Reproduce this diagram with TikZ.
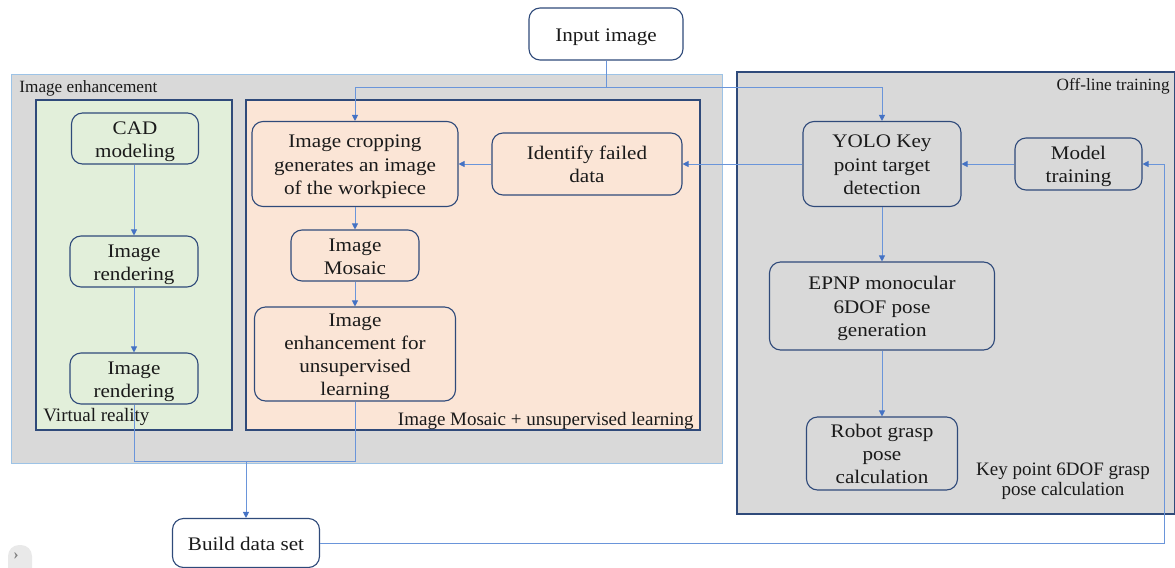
\documentclass[tikz,border=0pt]{standalone}
\usepackage{fontspec}
\setmainfont{Liberation Serif}
\newfontfamily\stepserif{Liberation Serif}
\usetikzlibrary{arrows.meta}
\definecolor{navy}{HTML}{2F4A7A}
\definecolor{panelgray}{HTML}{D9D9D9}
\definecolor{vrgreen}{HTML}{E2EFDA}
\definecolor{mosaicpink}{HTML}{FBE5D6}
\definecolor{framebl}{HTML}{9DC3E6}
\definecolor{linkbl}{HTML}{6A95DA}
\definecolor{tipbl}{HTML}{4472C4}
\definecolor{ink}{HTML}{1A1A1A}
\definecolor{btngray}{HTML}{E9E9E9}
% step captions: centred lines, set slightly wide and a touch low in the box
\newcommand\steptext[1]{\raisebox{-1.25pt}[\height][\depth]{\scalebox{1.1}[1]{\begin{tabular}{@{}c@{}}#1\end{tabular}}}}
% one unit of the grid is half a point; the page is 587.5pt x 284pt
\tikzset{
  box/.style={draw=navy, line width=0.55pt, rounded corners=5.5pt, align=center,
    inner sep=0pt, text=ink, font=\stepserif\fontsize{9.6}{11.6}\selectfont},
  grouplbl/.style={inner sep=0pt, text=ink, font=\stepserif\fontsize{9.5}{10}\selectfont},
  smalllbl/.style={inner sep=0pt, text=ink, font=\stepserif\fontsize{8.6}{9}\selectfont},
  link/.style={draw=linkbl, line width=0.4pt},
  arr/.style={link, -{Triangle[length=3pt,width=3pt,color=tipbl]}},
}
\begin{document}
\begin{tikzpicture}[x=0.5pt,y=-0.5pt]
\useasboundingbox (0,0) rectangle (1175,568);

% group panels
\filldraw[fill=panelgray, draw=framebl, line width=0.45pt] (11,74) rectangle (722,463);
\filldraw[fill=vrgreen, draw=navy, line width=0.55pt] (36,100) rectangle (232,430);
\filldraw[fill=mosaicpink, draw=navy, line width=0.55pt] (246,100) rectangle (700,430);
\filldraw[fill=panelgray, draw=navy, line width=0.55pt] (737,72) rectangle (1174.5,514);

\node[smalllbl, anchor=base west] (lblenh) at (19,92) {Image enhancement};
\node[grouplbl, anchor=base west] (lblvr) at (43,421) {Virtual reality};
\node[grouplbl, anchor=base east] (lblmos) at (694,425) {Image Mosaic + unsupervised learning};
\node[smalllbl, anchor=base east] (lbloff) at (1170,90) {Off-line training};
\node[grouplbl, align=center] (lblkey) at (1063,481)
  {Key point 6DOF grasp\\pose calculation};

% process steps
\node[box, fill=white, minimum width=77pt, minimum height=26pt] (input) at (606,34) {\steptext{Input image}};

\node[box, fill=vrgreen, minimum width=63.5pt, minimum height=25.5pt] (cad) at (135,138.5) {\steptext{CAD\\modeling}};
\node[box, fill=vrgreen, minimum width=64pt, minimum height=25.5pt] (rend1) at (134,261.5) {\steptext{Image\\rendering}};
\node[box, fill=vrgreen, minimum width=64pt, minimum height=25.5pt] (rend2) at (134,378.5) {\steptext{Image\\rendering}};

\node[box, fill=mosaicpink, minimum width=103pt, minimum height=42.5pt] (crop) at (355,164) {\steptext{Image cropping\\generates an image\\of the workpiece}};
\node[box, fill=mosaicpink, minimum width=95pt, minimum height=31pt] (ident) at (587,164) {\steptext{Identify failed\\data}};
\node[box, fill=mosaicpink, minimum width=64pt, minimum height=25.5pt] (mosaic) at (355,255.5) {\steptext{Image\\Mosaic}};
\node[box, fill=mosaicpink, minimum width=100.5pt, minimum height=47pt] (enh) at (355,354) {\steptext{Image\\enhancement for\\unsupervised\\learning}};

\node[box, fill=panelgray, minimum width=79pt, minimum height=42.5pt] (yolo) at (882,164) {\steptext{YOLO Key\\point target\\detection}};
\node[box, fill=panelgray, minimum width=63.5pt, minimum height=26pt] (model) at (1078.5,164) {\steptext{Model\\training}};
\node[box, fill=panelgray, minimum width=112.5pt, minimum height=44pt] (epnp) at (882,306) {\steptext{EPNP monocular\\6DOF pose\\generation}};
\node[box, fill=panelgray, minimum width=75.5pt, minimum height=36.5pt] (robot) at (882,453.5) {\steptext{Robot grasp\\pose\\calculation}};

\node[box, fill=white, minimum width=73.5pt, minimum height=24.5pt] (build) at (246,543) {\steptext{Build data set}};

% routing points
\coordinate (split) at (606,87);
\coordinate (merge) at (246,461);
\coordinate (ret) at (1164,164);

% connectors
\draw[link] (input.south) -- (split);
\draw[arr] (split) -| (crop.north);
\draw[arr] (split) -| (yolo.north);
\draw[arr] (yolo.west) -- (ident.east);
\draw[arr] (ident.west) -- (crop.east);
\draw[arr] (model.west) -- (yolo.east);
\draw[arr] (crop.south) -- (mosaic.north);
\draw[arr] (mosaic.south) -- (enh.north);
\draw[arr] (cad.south -| rend1.north) -- (rend1.north);
\draw[arr] (rend1.south) -- (rend2.north);
\draw[arr] (yolo.south) -- (epnp.north);
\draw[arr] (epnp.south) -- (robot.north);
\draw[link] (rend2.south) |- (merge);
\draw[link] (enh.south) |- (merge);
\draw[arr] (merge) -- (build.north);
\draw[arr] (build.east) -| (ret) -- (model.east);

% side toggle
\fill[btngray, rounded corners=5.5pt] (8,545) rectangle (32,590);
\node[inner sep=0pt, text=gray, font=\stepserif\fontsize{8}{8}\selectfont\bfseries] (toggle) at (16,556) {›};
\end{tikzpicture}
\end{document}
